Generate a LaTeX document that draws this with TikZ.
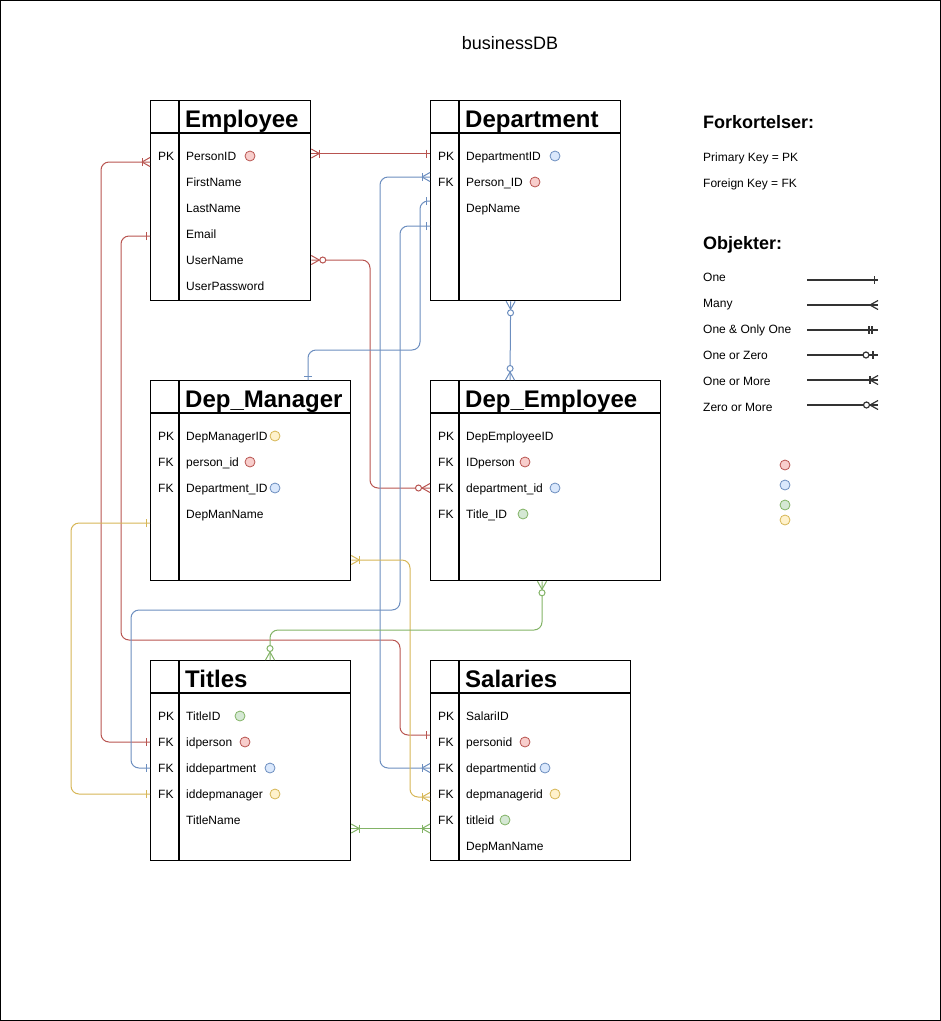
\documentclass[tikz,border=0pt]{standalone}
\usepackage{fontspec}
\setmainfont{Liberation Sans}
\usetikzlibrary{calc, decorations.markings}

\definecolor{erred}{HTML}{B85450}
\definecolor{erredfill}{HTML}{F8CECC}
\definecolor{erblue}{HTML}{6C8EBF}
\definecolor{erbluefill}{HTML}{DAE8FC}
\definecolor{ergreen}{HTML}{82B366}
\definecolor{ergreenfill}{HTML}{D5E8D4}
\definecolor{eryellow}{HTML}{D6B656}
\definecolor{eryellowfill}{HTML}{FFF2CC}

% line ends (x runs into the line)
\newcommand{\erbar}[1]{\draw (#1,-4) -- (#1,4);}
\newcommand{\ercrow}{\draw (8,0) -- (0,-4.5) (8,0) -- (0,4.5);}
\newcommand{\ercirc}[1]{\draw[fill=white] (#1,0) circle (3);}

\tikzset{
  tablebox/.style={draw, line width=1.3pt, anchor=north west, inner sep=0pt},
  tabletitle/.style={anchor=base west, inner sep=0pt, font=\fontsize{24}{28}\selectfont\bfseries},
  field/.style={anchor=west, inner sep=0pt, text height=9pt, text depth=0pt, font=\fontsize{12}{14}\selectfont},
  legtext/.style={anchor=base west, inner sep=0pt, font=\fontsize{12}{14}\selectfont},
  legtitle/.style={anchor=base west, inner sep=0pt, font=\fontsize{18}{22}\selectfont\bfseries},
  keydot/.style={circle, draw=#1, fill=#1fill, line width=0.8pt, minimum size=10pt, inner sep=0pt},
  conn/.style={line width=1pt, rounded corners=8pt},
  legline/.style={line width=1.2pt, black!80},
  erstart/.style={postaction={decorate, decoration={markings, mark=at position 0 with {#1}}}},
  erend/.style={postaction={decorate, decoration={markings, mark=at position 1 with {\begin{scope}[xscale=-1]#1\end{scope}}}}},
  one start/.style={erstart={\erbar{3.5}}},
  one end/.style={erend={\erbar{3.5}}},
  onemany start/.style={erstart={\ercrow\erbar{8}}},
  onemany end/.style={erend={\ercrow\erbar{8}}},
  zeromany start/.style={erstart={\ercrow\ercirc{11.5}}},
  zeromany end/.style={erend={\ercrow\ercirc{11.5}}},
  many end/.style={erend={\ercrow}},
  oneonly end/.style={erend={\erbar{6}\erbar{9}}},
  onezero end/.style={erend={\erbar{5}\ercirc{12}}}
}

\begin{document}
\begin{tikzpicture}[x=1pt, y=-1pt]
    \useasboundingbox (0,0) rectangle (941,1021);
    \draw[line width=1pt] (0.5,0.5) rectangle (940.5,1020.5);
    \node[anchor=base, inner sep=0pt, font=\fontsize{18}{22}\selectfont] (db-title) at (510,49.5) {businessDB};

    % Employee
    \node[tablebox, minimum width=160pt, minimum height=200pt] (employee) at (150,100) {};
    \draw[line width=1.3pt] (employee.north west) ++(0,33) -- ++(160,0) (employee.north west) ++(29,0) -- ++(0,200);
    \node[tabletitle] (employee-title) at (185,127) {Employee};
    \node[field] (emp-key1) at (158,156) {PK};
    \foreach \n/\t [count=\i] in {pid/PersonID, first/FirstName, last/LastName, mail/Email, user/UserName, pass/UserPassword}
        \node[field] (emp-\n) at (186,130+26*\i) {\t};
    \node[keydot=erred] (emp-pid-dot) at (250,156) {};

    % Department
    \node[tablebox, minimum width=190pt, minimum height=200pt] (department) at (430,100) {};
    \draw[line width=1.3pt] (department.north west) ++(0,33) -- ++(190,0) (department.north west) ++(29,0) -- ++(0,200);
    \node[tabletitle] (department-title) at (465,127) {Department};
    \foreach \k [count=\i] in {PK,FK}
        \node[field] (dep-key\i) at (438,130+26*\i) {\k};
    \foreach \n/\t [count=\i] in {did/DepartmentID, pers/Person\_ID, name/DepName}
        \node[field] (dep-\n) at (466,130+26*\i) {\t};
    \node[keydot=erblue] (dep-did-dot) at (555,156) {};
    \node[keydot=erred] (dep-pers-dot) at (535,182) {};

    % Dep_Manager
    \node[tablebox, minimum width=200pt, minimum height=200pt] (depmanager) at (150,380) {};
    \draw[line width=1.3pt] (depmanager.north west) ++(0,33) -- ++(200,0) (depmanager.north west) ++(29,0) -- ++(0,200);
    \node[tabletitle] (depmanager-title) at (185,407) {Dep\_Manager};
    \foreach \k [count=\i] in {PK,FK,FK}
        \node[field] (dm-key\i) at (158,410+26*\i) {\k};
    \foreach \n/\t [count=\i] in {id/DepManagerID, pers/person\_id, dep/Department\_ID, name/DepManName}
        \node[field] (dm-\n) at (186,410+26*\i) {\t};
    \node[keydot=eryellow] (dm-id-dot) at (275,436) {};
    \node[keydot=erred] (dm-pers-dot) at (250,462) {};
    \node[keydot=erblue] (dm-dep-dot) at (275,488) {};

    % Dep_Employee
    \node[tablebox, minimum width=230pt, minimum height=200pt] (depemployee) at (430,380) {};
    \draw[line width=1.3pt] (depemployee.north west) ++(0,33) -- ++(230,0) (depemployee.north west) ++(29,0) -- ++(0,200);
    \node[tabletitle] (depemployee-title) at (465,407) {Dep\_Employee};
    \foreach \k [count=\i] in {PK,FK,FK,FK}
        \node[field] (depe-key\i) at (438,410+26*\i) {\k};
    \foreach \n/\t [count=\i] in {id/DepEmployeeID, pers/IDperson, dep/department\_id, tit/Title\_ID}
        \node[field] (depe-\n) at (466,410+26*\i) {\t};
    \node[keydot=erred] (depe-pers-dot) at (525,462) {};
    \node[keydot=erblue] (depe-dep-dot) at (555,488) {};
    \node[keydot=ergreen] (depe-tit-dot) at (523,514) {};

    % Titles
    \node[tablebox, minimum width=200pt, minimum height=200pt] (titles) at (150,660) {};
    \draw[line width=1.3pt] (titles.north west) ++(0,33) -- ++(200,0) (titles.north west) ++(29,0) -- ++(0,200);
    \node[tabletitle] (titles-title) at (185,687) {Titles};
    \foreach \k [count=\i] in {PK,FK,FK,FK}
        \node[field] (tit-key\i) at (158,690+26*\i) {\k};
    \foreach \n/\t [count=\i] in {id/TitleID, pers/idperson, dep/iddepartment, dm/iddepmanager, name/TitleName}
        \node[field] (tit-\n) at (186,690+26*\i) {\t};
    \node[keydot=ergreen] (tit-id-dot) at (240,716) {};
    \node[keydot=erred] (tit-pers-dot) at (245,742) {};
    \node[keydot=erblue] (tit-dep-dot) at (270,768) {};
    \node[keydot=eryellow] (tit-dm-dot) at (275,794) {};

    % Salaries
    \node[tablebox, minimum width=200pt, minimum height=200pt] (salaries) at (430,660) {};
    \draw[line width=1.3pt] (salaries.north west) ++(0,33) -- ++(200,0) (salaries.north west) ++(29,0) -- ++(0,200);
    \node[tabletitle] (salaries-title) at (465,687) {Salaries};
    \foreach \k [count=\i] in {PK,FK,FK,FK,FK}
        \node[field] (sal-key\i) at (438,690+26*\i) {\k};
    \foreach \n/\t [count=\i] in {id/SalariID, pers/personid, dep/departmentid, dm/depmanagerid, tit/titleid, name/DepManName}
        \node[field] (sal-\n) at (466,690+26*\i) {\t};
    \node[keydot=erred] (sal-pers-dot) at (525,742) {};
    \node[keydot=erblue] (sal-dep-dot) at (545,768) {};
    \node[keydot=eryellow] (sal-dm-dot) at (555,794) {};
    \node[keydot=ergreen] (sal-tit-dot) at (505,820) {};

    % Relations
    \draw[conn, erred, onemany start, one end] ($(employee.east |- emp-pid)+(0,-2.5)$) -- ($(department.west |- dep-did)+(0,-2.5)$);
    \draw[conn, erred, zeromany start, zeromany end] (employee.east |- emp-user) -| (370,488) -- (depemployee.west |- depe-dep);
    \draw[conn, erred, onemany start, one end] ($(employee.west |- emp-pid)+(0,6)$) -| (101,742) -- (titles.west |- tit-pers);
    \draw[conn, erred, one start, one end] ($(employee.west |- emp-mail)+(0,2)$) -| (121,640) -| (400,735) -- ($(salaries.west |- sal-pers)+(0,-7)$);
    \draw[conn, erblue, onemany start, onemany end] ($(department.west |- dep-pers)+(0,-5)$) -| (380,768) -- (salaries.west |- sal-dep);
    \draw[conn, erblue, one start, one end] ($(department.west |- dep-name)+(0,-7)$) -| (420,350) -| ($(depmanager.north west)+(158,0)$);
    \draw[conn, erblue, one start, one end] ($(department.west |- dep-name)+(0,18)$) -| (400,610) -| (131,768) -- (titles.west |- tit-dep);
    \draw[conn, erblue, zeromany start, zeromany end] ($(department.south)+(-15,0)$) -- ($(depemployee.north west)+(80,0)$);
    \draw[conn, eryellow, one start, one end] ($(depmanager.west |- dm-name)+(0,9)$) -| (71,794) -- (titles.west |- tit-dm);
    \draw[conn, eryellow, onemany start, onemany end] ($(depmanager.east |- dm-name)+(0,46)$) -| (410,797) -- ($(salaries.west |- sal-dm)+(0,3)$);
    \draw[conn, ergreen, zeromany start, zeromany end] ($(depemployee.south west)+(112,0)$) |- (270,630) -- ($(titles.north west)+(120,0)$);
    \draw[conn, ergreen, onemany start, onemany end] ($(titles.east |- tit-name)+(0,8.5)$) -- ($(salaries.west |- sal-tit)+(0,8.5)$);

    % Legend
    \node[legtitle] (abbr-title) at (703,128) {Forkortelser:};
    \node[legtext] (abbr-pk) at (703,161.5) {Primary Key = PK};
    \node[legtext] (abbr-fk) at (703,187.5) {Foreign Key = FK};
    \node[legtitle] (obj-title) at (703,249) {Objekter:};
    \foreach \t [count=\i] in {One, Many, One \& Only One, One or Zero, One or More, Zero or More}
        \node[legtext] (obj-\i) at (703,255+26*\i) {\t};
    \draw[legline, one end] (807,280) -- (878,280);
    \draw[legline, many end] (807,305) -- (878,305);
    \draw[legline, oneonly end] (807,330) -- (878,330);
    \draw[legline, onezero end] (807,355) -- (878,355);
    \draw[legline, onemany end] (807,380) -- (878,380);
    \draw[legline, zeromany end] (807,405) -- (878,405);
    \node[keydot=erred] (leg-red) at (785,465) {};
    \node[keydot=erblue] (leg-blue) at (785,485) {};
    \node[keydot=ergreen] (leg-green) at (785,505) {};
    \node[keydot=eryellow] (leg-yellow) at (785,520) {};
\end{tikzpicture}
\end{document}
